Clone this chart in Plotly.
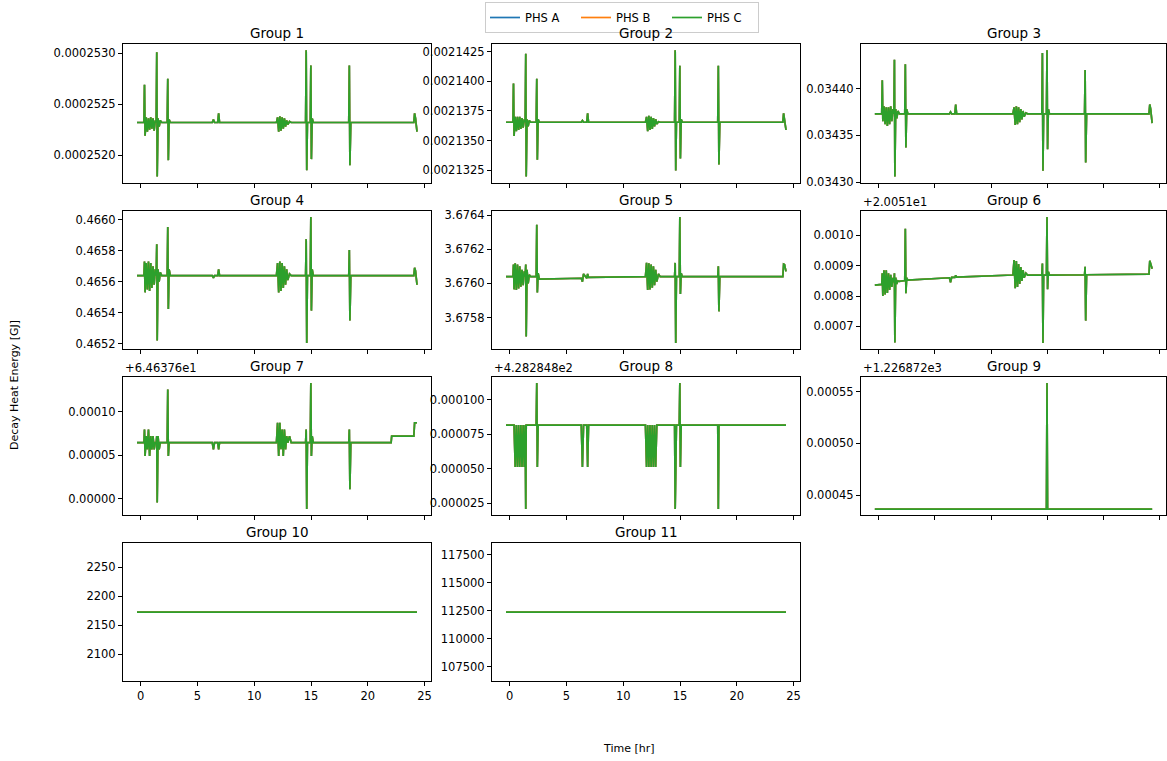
import plotly.graph_objects as go

# ---------------------------------------------------------------------------
# Time base shared by every group [hr]
# ---------------------------------------------------------------------------
t_hr = [-0.33, 0.28, 0.33, 0.38, 0.48, 0.58, 0.68, 0.78, 0.88, 0.98,
        1.08, 1.18, 1.28, 1.36, 1.41, 1.45, 1.52, 1.62, 1.72, 1.85,
        2.33, 2.38, 2.43, 2.50, 2.60, 6.30, 6.40, 6.50, 6.78, 6.86,
        6.94, 11.95, 12.05, 12.15, 12.25, 12.35, 12.45, 12.55, 12.65, 12.75,
        12.85, 12.95, 13.10, 13.25, 14.52, 14.57, 14.62, 14.68, 14.93, 14.98,
        15.03, 15.10, 15.20, 18.32, 18.37, 18.42, 18.50, 22.05, 22.10, 24.05,
        24.12, 24.20, 24.33]

# ---------------------------------------------------------------------------
# Decay heat energy per group [GJ]
# ---------------------------------------------------------------------------
g1 = [2.5232e-4, 2.5232e-4, 2.5269e-4, 2.5219e-4, 2.5237e-4, 2.5223e-4, 2.5236e-4, 2.5225e-4, 2.5237e-4, 2.5226e-4,
      2.5236e-4, 2.5224e-4, 2.5234e-4, 2.5232e-4, 2.5301e-4, 2.5179e-4, 2.5236e-4, 2.5228e-4, 2.5234e-4, 2.5232e-4,
      2.5232e-4, 2.5275e-4, 2.5195e-4, 2.5235e-4, 2.5232e-4, 2.5232e-4, 2.5235e-4, 2.5232e-4, 2.5232e-4, 2.5241e-4,
      2.5232e-4, 2.5232e-4, 2.5237e-4, 2.5223e-4, 2.5238e-4, 2.5224e-4, 2.5237e-4, 2.5226e-4, 2.5236e-4, 2.5228e-4,
      2.5234e-4, 2.5230e-4, 2.5233e-4, 2.5232e-4, 2.5232e-4, 2.5303e-4, 2.5185e-4, 2.5232e-4, 2.5232e-4, 2.5288e-4,
      2.5196e-4, 2.5236e-4, 2.5232e-4, 2.5232e-4, 2.5288e-4, 2.5190e-4, 2.5232e-4, 2.5232e-4, 2.5232e-4, 2.5232e-4,
      2.5241e-4, 2.5236e-4, 2.5223e-4]

g2 = [2.13655e-3, 2.13655e-3, 2.13980e-3, 2.13540e-3, 2.13700e-3, 2.13580e-3, 2.13700e-3, 2.13590e-3, 2.13700e-3, 2.13600e-3,
      2.13690e-3, 2.13610e-3, 2.13680e-3, 2.13655e-3, 2.14230e-3, 2.13200e-3, 2.13680e-3, 2.13620e-3, 2.13670e-3, 2.13655e-3,
      2.13655e-3, 2.14020e-3, 2.13340e-3, 2.13680e-3, 2.13655e-3, 2.13655e-3, 2.13670e-3, 2.13655e-3, 2.13655e-3, 2.13730e-3,
      2.13655e-3, 2.13655e-3, 2.13700e-3, 2.13580e-3, 2.13710e-3, 2.13590e-3, 2.13700e-3, 2.13600e-3, 2.13690e-3, 2.13620e-3,
      2.13680e-3, 2.13640e-3, 2.13660e-3, 2.13655e-3, 2.13655e-3, 2.14260e-3, 2.13250e-3, 2.13655e-3, 2.13655e-3, 2.14130e-3,
      2.13350e-3, 2.13680e-3, 2.13655e-3, 2.13655e-3, 2.14130e-3, 2.13300e-3, 2.13655e-3, 2.13655e-3, 2.13655e-3, 2.13655e-3,
      2.13730e-3, 2.13680e-3, 2.13590e-3]

g3 = [0.034373, 0.034373, 0.034409, 0.034365, 0.034381, 0.034362, 0.034380, 0.034360, 0.034380, 0.034362,
      0.034381, 0.034365, 0.034378, 0.034373, 0.034431, 0.034306, 0.034378, 0.034368, 0.034376, 0.034373,
      0.034373, 0.034426, 0.034337, 0.034378, 0.034373, 0.034373, 0.034375, 0.034373, 0.034373, 0.034383,
      0.034373, 0.034373, 0.034380, 0.034361, 0.034381, 0.034362, 0.034380, 0.034364, 0.034378, 0.034367,
      0.034376, 0.034370, 0.034374, 0.034373, 0.034373, 0.034438, 0.034312, 0.034373, 0.034373, 0.034441,
      0.034335, 0.034378, 0.034373, 0.034373, 0.034420, 0.034321, 0.034373, 0.034373, 0.034373, 0.034373,
      0.034383, 0.034378, 0.034363]

g4 = [0.465639, 0.465639, 0.465731, 0.465531, 0.465720, 0.465550, 0.465730, 0.465540, 0.465720, 0.465560,
      0.465700, 0.465580, 0.465680, 0.465639, 0.465842, 0.465220, 0.465680, 0.465600, 0.465660, 0.465639,
      0.465639, 0.465954, 0.465424, 0.465680, 0.465639, 0.465639, 0.465625, 0.465639, 0.465639, 0.465680,
      0.465639, 0.465639, 0.465720, 0.465530, 0.465730, 0.465540, 0.465720, 0.465560, 0.465700, 0.465580,
      0.465680, 0.465610, 0.465650, 0.465639, 0.465639, 0.465875, 0.465203, 0.465639, 0.465639, 0.466018,
      0.465413, 0.465680, 0.465639, 0.465639, 0.465804, 0.465349, 0.465639, 0.465639, 0.465639, 0.465639,
      0.465690, 0.465670, 0.465580]

g5 = [3.676039, 3.676039, 3.676110, 3.675965, 3.676117, 3.675961, 3.676110, 3.675970, 3.676100, 3.675980,
      3.676080, 3.675990, 3.676070, 3.676039, 3.676110, 3.675688, 3.676080, 3.676000, 3.676050, 3.676039,
      3.676039, 3.676343, 3.675947, 3.676060, 3.676025, 3.676030, 3.676010, 3.676055, 3.676030, 3.676055,
      3.676035, 3.676039, 3.676120, 3.675961, 3.676118, 3.675965, 3.676110, 3.675975, 3.676100, 3.675990,
      3.676080, 3.676010, 3.676055, 3.676039, 3.676039, 3.676120, 3.675650, 3.676039, 3.676039, 3.676389,
      3.675938, 3.676060, 3.676039, 3.676039, 3.676100, 3.675836, 3.676039, 3.676039, 3.676039, 3.676039,
      3.676113, 3.676110, 3.676070]

# groups 6-9 are stored relative to their axis offset
g6_offset = 20.051
g6 = [0.000836, 0.000838, 0.000875, 0.000800, 0.000885, 0.000805, 0.000885, 0.000810, 0.000875, 0.000820,
      0.000870, 0.000830, 0.000860, 0.000845, 0.000875, 0.000647, 0.000860, 0.000840, 0.000850, 0.000848,
      0.000851, 0.001021, 0.000809, 0.000860, 0.000852, 0.000860, 0.000845, 0.000861, 0.000861, 0.000868,
      0.000862, 0.000869, 0.000918, 0.000826, 0.000915, 0.000830, 0.000905, 0.000840, 0.000895, 0.000850,
      0.000885, 0.000860, 0.000875, 0.000869, 0.000869, 0.000907, 0.000645, 0.000869, 0.000869, 0.001060,
      0.000822, 0.000880, 0.000869, 0.000870, 0.000896, 0.000719, 0.000870, 0.000871, 0.000871, 0.000872,
      0.000916, 0.000905, 0.000890]

g7_offset = 64.6376
g7 = [0.0000646, 0.0000646, 0.0000798, 0.0000494, 0.0000722, 0.0000570, 0.0000798, 0.0000494, 0.0000722, 0.0000570,
      0.0000722, 0.0000570, 0.0000646, 0.0000646, 0.0000722, -0.0000041, 0.0000722, 0.0000570, 0.0000646, 0.0000646,
      0.0000646, 0.0001256, 0.0000494, 0.0000646, 0.0000646, 0.0000646, 0.0000570, 0.0000646, 0.0000646, 0.0000570,
      0.0000646, 0.0000646, 0.0000875, 0.0000494, 0.0000875, 0.0000570, 0.0000798, 0.0000494, 0.0000798, 0.0000570,
      0.0000722, 0.0000646, 0.0000722, 0.0000646, 0.0000646, 0.0000798, -0.0000117, 0.0000646, 0.0000646, 0.0001332,
      0.0000494, 0.0000722, 0.0000646, 0.0000646, 0.0000798, 0.0000112, 0.0000646, 0.0000646, 0.0000722, 0.0000722,
      0.0000875, 0.0000875, 0.0000875]

g8_offset = 428.2848
g8 = [0.0000818, 0.0000818, 0.0000818, 0.0000818, 0.0000513, 0.0000818, 0.0000513, 0.0000818, 0.0000513, 0.0000818,
      0.0000513, 0.0000818, 0.0000513, 0.0000818, 0.0000208, 0.0000818, 0.0000818, 0.0000818, 0.0000818, 0.0000818,
      0.0000818, 0.0001123, 0.0000513, 0.0000818, 0.0000818, 0.0000818, 0.0000513, 0.0000818, 0.0000818, 0.0000513,
      0.0000818, 0.0000818, 0.0000513, 0.0000818, 0.0000513, 0.0000818, 0.0000513, 0.0000818, 0.0000513, 0.0000818,
      0.0000513, 0.0000818, 0.0000818, 0.0000818, 0.0000818, 0.0000208, 0.0000818, 0.0000818, 0.0000818, 0.0001123,
      0.0000513, 0.0000818, 0.0000818, 0.0000818, 0.0000208, 0.0000818, 0.0000818, 0.0000818, 0.0000818, 0.0000818,
      0.0000818, 0.0000818, 0.0000818]

g9_offset = 1226.872
g9 = [0.0004364, 0.0004364, 0.0004364, 0.0004364, 0.0004364, 0.0004364, 0.0004364, 0.0004364, 0.0004364, 0.0004364,
      0.0004364, 0.0004364, 0.0004364, 0.0004364, 0.0004364, 0.0004364, 0.0004364, 0.0004364, 0.0004364, 0.0004364,
      0.0004364, 0.0004364, 0.0004364, 0.0004364, 0.0004364, 0.0004364, 0.0004364, 0.0004364, 0.0004364, 0.0004364,
      0.0004364, 0.0004364, 0.0004364, 0.0004364, 0.0004364, 0.0004364, 0.0004364, 0.0004364, 0.0004364, 0.0004364,
      0.0004364, 0.0004364, 0.0004364, 0.0004364, 0.0004364, 0.0004364, 0.0004364, 0.0004364, 0.0004364, 0.0005585,
      0.0004364, 0.0004364, 0.0004364, 0.0004364, 0.0004364, 0.0004364, 0.0004364, 0.0004364, 0.0004364, 0.0004364,
      0.0004364, 0.0004364, 0.0004364]

g10 = [2172.4, 2172.4, 2172.4, 2172.4, 2172.4, 2172.4, 2172.4, 2172.4, 2172.4, 2172.4,
       2172.4, 2172.4, 2172.4, 2172.4, 2172.4, 2172.4, 2172.4, 2172.4, 2172.4, 2172.4,
       2172.4, 2172.4, 2172.4, 2172.4, 2172.4, 2172.4, 2172.4, 2172.4, 2172.4, 2172.4,
       2172.4, 2172.4, 2172.4, 2172.4, 2172.4, 2172.4, 2172.4, 2172.4, 2172.4, 2172.4,
       2172.4, 2172.4, 2172.4, 2172.4, 2172.4, 2172.4, 2172.4, 2172.4, 2172.4, 2172.4,
       2172.4, 2172.4, 2172.4, 2172.4, 2172.4, 2172.4, 2172.4, 2172.4, 2172.4, 2172.4,
       2172.4, 2172.4, 2172.4]

g11 = [112380, 112380, 112380, 112380, 112380, 112380, 112380, 112380, 112380, 112380,
       112380, 112380, 112380, 112380, 112380, 112380, 112380, 112380, 112380, 112380,
       112380, 112380, 112380, 112380, 112380, 112380, 112380, 112380, 112380, 112380,
       112380, 112380, 112380, 112380, 112380, 112380, 112380, 112380, 112380, 112380,
       112380, 112380, 112380, 112380, 112380, 112380, 112380, 112380, 112380, 112380,
       112380, 112380, 112380, 112380, 112380, 112380, 112380, 112380, 112380, 112380,
       112380, 112380, 112380]

# ---------------------------------------------------------------------------
# Tick positions (relative to offset where one applies) and their labels
# ---------------------------------------------------------------------------
g1_ticks = [0.0002520, 0.0002525, 0.0002530]
g1_labels = ["0.0002520", "0.0002525", "0.0002530"]
g2_ticks = [0.0021325, 0.0021350, 0.0021375, 0.0021400, 0.0021425]
g2_labels = ["0.0021325", "0.0021350", "0.0021375", "0.0021400", "0.0021425"]
g3_ticks = [0.03430, 0.03435, 0.03440]
g3_labels = ["0.03430", "0.03435", "0.03440"]
g4_ticks = [0.4652, 0.4654, 0.4656, 0.4658, 0.4660]
g4_labels = ["0.4652", "0.4654", "0.4656", "0.4658", "0.4660"]
g5_ticks = [3.6758, 3.6760, 3.6762, 3.6764]
g5_labels = ["3.6758", "3.6760", "3.6762", "3.6764"]
g6_ticks = [0.0007, 0.0008, 0.0009, 0.0010]
g6_labels = ["0.0007", "0.0008", "0.0009", "0.0010"]
g7_ticks = [0.00000, 0.00005, 0.00010]
g7_labels = ["0.00000", "0.00005", "0.00010"]
g8_ticks = [0.000025, 0.000050, 0.000075, 0.000100]
g8_labels = ["0.000025", "0.000050", "0.000075", "0.000100"]
g9_ticks = [0.00045, 0.00050, 0.00055]
g9_labels = ["0.00045", "0.00050", "0.00055"]
g10_ticks = [2100, 2150, 2200, 2250]
g10_labels = ["2100", "2150", "2200", "2250"]
g11_ticks = [107500, 110000, 112500, 115000, 117500]
g11_labels = ["107500", "110000", "112500", "115000", "117500"]

x_ticks = [0, 5, 10, 15, 20, 25]
x_labels = ["0", "5", "10", "15", "20", "25"]

series_names = ["PHS A", "PHS B", "PHS C"]
series_colors = ["#1f77b4", "#ff7f0e", "#2ca02c"]

groups = [
    ("Group 1", g1, 0.0, None, g1_ticks, g1_labels),
    ("Group 2", g2, 0.0, None, g2_ticks, g2_labels),
    ("Group 3", g3, 0.0, None, g3_ticks, g3_labels),
    ("Group 4", g4, 0.0, None, g4_ticks, g4_labels),
    ("Group 5", g5, 0.0, None, g5_ticks, g5_labels),
    ("Group 6", g6, g6_offset, "+2.0051e1", g6_ticks, g6_labels),
    ("Group 7", g7, g7_offset, "+6.46376e1", g7_ticks, g7_labels),
    ("Group 8", g8, g8_offset, "+4.282848e2", g8_ticks, g8_labels),
    ("Group 9", g9, g9_offset, "+1.226872e3", g9_ticks, g9_labels),
    ("Group 10", g10, 0.0, None, g10_ticks, g10_labels),
    ("Group 11", g11, 0.0, None, g11_ticks, g11_labels),
]

# ---------------------------------------------------------------------------
# Page geometry (pixels)
# ---------------------------------------------------------------------------
W, H = 1167, 761
col_px = [(123, 431), (492, 800), (861, 1166)]
row_top_px = [44, 210.7, 376.7, 542.7]
row_h_px = 138.7
FONT = "DejaVu Sans"
INK = "#000000"
TICK_SIZE = 11.5


def padded_range(vals):
    lo, hi = min(vals), max(vals)
    if hi == lo:
        lo, hi = lo - 0.05 * abs(lo), hi + 0.05 * abs(hi)
    span = hi - lo
    return [lo - 0.05 * span, hi + 0.05 * span]


x_range = padded_range(t_hr)

fig = go.Figure()
layout = {}
annotations = []

for i, (title, vals, offset, offset_text, ticks, labels) in enumerate(groups):
    n = i + 1
    r, c = divmod(i, 3)
    x0, x1 = col_px[c]
    top = row_top_px[r]
    bot = top + row_h_px
    y_abs = [offset + v for v in vals]

    for s, (name, color) in enumerate(zip(series_names, series_colors)):
        fig.add_trace(go.Scatter(
            x=t_hr, y=y_abs, mode="lines", name=name,
            line=dict(color=color, width=1.7),
            xaxis=f"x{n}", yaxis=f"y{n}",
            showlegend=(i == 0), legendgroup=name,
        ))

    bottom_row = n in (10, 11)
    layout[f"xaxis{n}"] = dict(
        domain=[x0 / W, x1 / W], anchor=f"y{n}", range=x_range,
        tickvals=x_ticks, ticktext=x_labels, showticklabels=bottom_row,
        ticks="outside", ticklen=4, tickwidth=1, tickcolor=INK,
        showline=True, linecolor=INK, linewidth=1, mirror=True,
        showgrid=False, zeroline=False, automargin=False,
        tickfont=dict(family=FONT, size=TICK_SIZE, color=INK),
    )
    layout[f"yaxis{n}"] = dict(
        domain=[1 - bot / H, 1 - top / H], anchor=f"x{n}",
        range=padded_range(y_abs),
        tickvals=[offset + t for t in ticks], ticktext=labels,
        ticks="outside", ticklen=4, tickwidth=1, tickcolor=INK,
        showline=True, linecolor=INK, linewidth=1, mirror=True,
        showgrid=False, zeroline=False, automargin=False,
        tickfont=dict(family=FONT, size=TICK_SIZE, color=INK),
    )

    annotations.append(dict(
        text=title, x=(x0 + x1) / 2 / W, y=1 - top / H,
        xref="paper", yref="paper", xanchor="center", yanchor="bottom",
        yshift=1, showarrow=False,
        font=dict(family=FONT, size=13.5, color=INK),
    ))
    if offset_text:
        annotations.append(dict(
            text=offset_text, x=x0 / W, y=1 - top / H,
            xref="paper", yref="paper", xanchor="left", yanchor="bottom",
            yshift=0, showarrow=False,
            font=dict(family=FONT, size=TICK_SIZE, color=INK),
        ))

annotations.append(dict(
    text="Time [hr]", x=629 / W, y=1 - 748 / H, xref="paper", yref="paper",
    xanchor="center", yanchor="middle", showarrow=False,
    font=dict(family=FONT, size=11, color=INK),
))
annotations.append(dict(
    text="Decay Heat Energy [GJ]", x=14 / W, y=1 - 385 / H, xref="paper", yref="paper",
    xanchor="center", yanchor="middle", textangle=-90, showarrow=False,
    font=dict(family=FONT, size=11, color=INK),
))

fig.update_layout(
    width=W, height=H,
    margin=dict(l=0, r=0, t=0, b=0, autoexpand=False),
    paper_bgcolor="white", plot_bgcolor="white",
    font=dict(family=FONT, size=11, color=INK),
    annotations=annotations,
    legend=dict(
        orientation="h", x=622 / W, xanchor="center", y=1 - 2 / H, yanchor="top",
        bordercolor="#cccccc", borderwidth=1, bgcolor="white",
        font=dict(family=FONT, size=11.5, color=INK), itemwidth=30,
        entrywidth=46, entrywidthmode="pixels", tracegroupgap=0,
    ),
    **layout,
)

fig.write_html("out.html")
